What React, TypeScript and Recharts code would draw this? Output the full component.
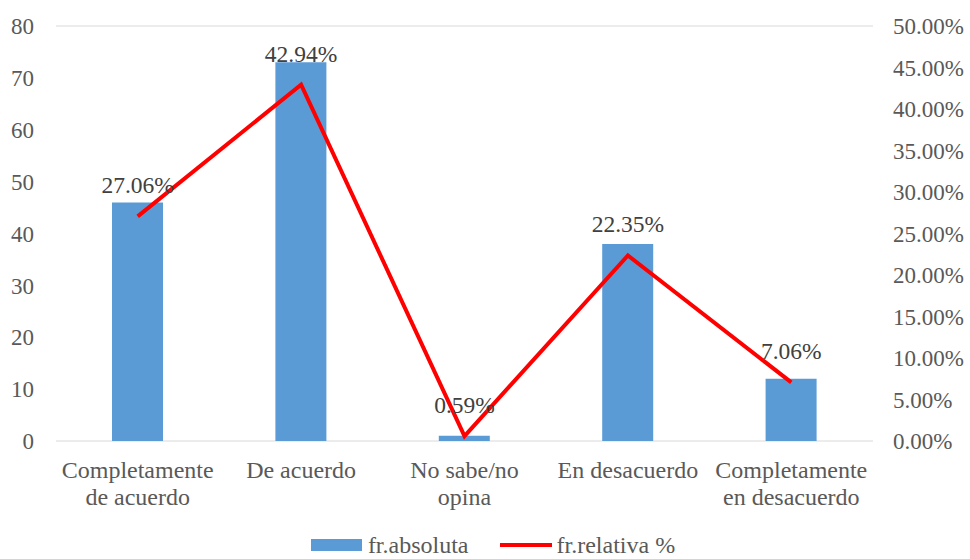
import React from "react";
import {
  ComposedChart,
  Bar,
  Line,
  XAxis,
  YAxis,
  CartesianGrid,
  Legend,
  LabelList,
} from "recharts";

const categories = [
  "Completamente\nde acuerdo",
  "De acuerdo",
  "No sabe/no\nopina",
  "En desacuerdo",
  "Completamente\nen desacuerdo",
];
const absoluta = [46, 73, 1, 38, 12];
const relativa = [27.06, 42.94, 0.59, 22.35, 7.06];
const leftTicks = [0, 10, 20, 30, 40, 50, 60, 70, 80];
const rightTicks = [0, 5, 10, 15, 20, 25, 30, 35, 40, 45, 50];

const data = categories.map((c, i) => ({
  name: c,
  abs: absoluta[i],
  rel: relativa[i],
}));

const FONT = "'Liberation Serif', 'Times New Roman', serif";
const TEXT = "#595959";

const XTick = (props: any) => {
  const { x, y, payload } = props;
  const lines = String(payload.value).split("\n");
  return (
    <text
      x={x}
      y={y}
      textAnchor="middle"
      fill={TEXT}
      fontFamily={FONT}
      fontSize={24}
    >
      {lines.map((l, i) => (
        <tspan key={i} x={x} dy={i === 0 ? 29 : 27}>
          {l}
        </tspan>
      ))}
    </text>
  );
};

const LegendContent = () => (
  <div
    style={{
      display: "flex",
      justifyContent: "center",
      alignItems: "center",
      fontFamily: FONT,
      fontSize: 24,
      lineHeight: "26px",
      color: TEXT,
      paddingLeft: 16,
      paddingTop: 3,
    }}
  >
    <span style={{ display: "inline-block", width: 51, height: 12, background: "#5B9BD5", marginRight: 6 }} />
    <span style={{ marginRight: 31 }}>fr.absoluta</span>
    <span style={{ display: "inline-block", width: 52, height: 4, background: "#FF0000", marginRight: 5 }} />
    <span>fr.relativa %</span>
  </div>
);

export default function App() {
  return (
    <div style={{ position: "absolute", left: 0, top: 0, background: "#fff" }}>
      <ComposedChart
        width={970}
        height={559}
        data={data}
        margin={{ top: 26, right: 0, bottom: 0, left: 0 }}
      >
        <CartesianGrid vertical={false} stroke="#d9d9d9" strokeWidth={1} />
        <XAxis
          dataKey="name"
          xAxisId={0}
          axisLine={false}
          tickLine={false}
          interval={0}
          height={88}
          tick={<XTick />}
        />
        <YAxis
          yAxisId="left"
          orientation="left"
          domain={[0, 80]}
          ticks={leftTicks}
          width={56}
          axisLine={false}
          tickLine={false}
          tickSize={0}
          tickMargin={22}
          tick={{ fill: TEXT, fontFamily: FONT, fontSize: 23 }}
        />
        <YAxis
          yAxisId="right"
          orientation="right"
          domain={[0, 50]}
          ticks={rightTicks}
          width={97}
          axisLine={false}
          tickLine={false}
          tickSize={0}
          tickMargin={20}
          tickFormatter={(v: number) => v.toFixed(2) + "%"}
          tick={{ fill: TEXT, fontFamily: FONT, fontSize: 23, textAnchor: "start" }}
        />
        <Bar
          yAxisId="left"
          dataKey="abs"
          fill="#5B9BD5"
          barSize={51}
          isAnimationActive={false}
        />
        <Line
          yAxisId="right"
          dataKey="rel"
          stroke="#FF0000"
          strokeWidth={4}
          dot={false}
          activeDot={false}
          isAnimationActive={false}
        >
          <LabelList
            dataKey="rel"
            position="top"
            offset={23}
            formatter={(v: number) => v.toFixed(2) + "%"}
            style={{ fill: "#404040", fontFamily: FONT, fontSize: 23.5 }}
          />
        </Line>
        <Legend verticalAlign="bottom" height={30} content={<LegendContent />} />
      </ComposedChart>
    </div>
  );
}
